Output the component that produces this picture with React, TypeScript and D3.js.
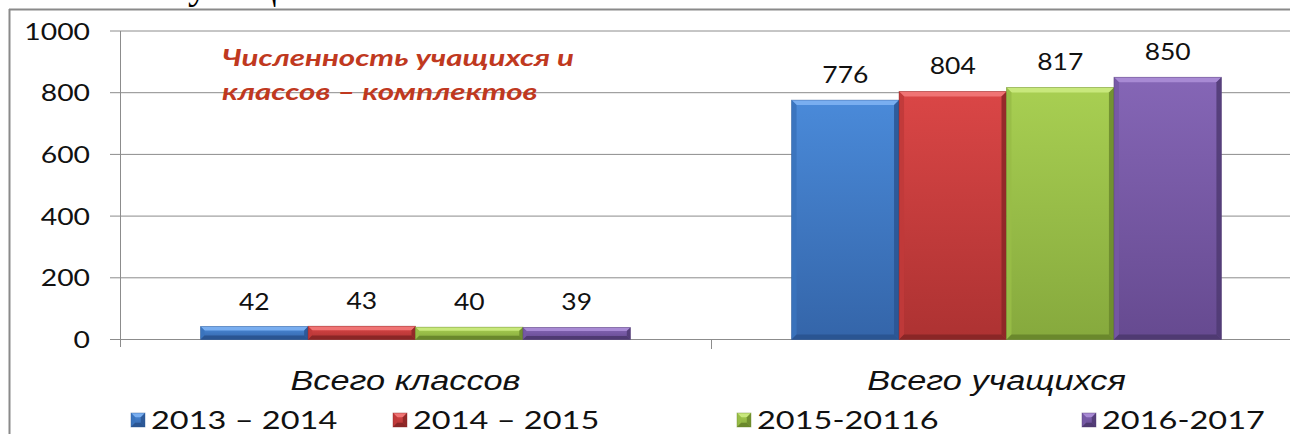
import React from "react";
import * as d3 from "d3";

const categories = ["Всего классов", "Всего учащихся"];
const seriesNames = ["2013 – 2014", "2014 – 2015", "2015-20116", "2016-2017"];
const totalClasses = [42, 43, 40, 39];
const totalStudents = [776, 804, 817, 850];
const yTicks = [0, 200, 400, 600, 800, 1000];
const titleLines = ["Численность учащихся и", "классов – комплектов"];

const W = 1290;
const H = 434;
const SX = 1.18;

const palette = [
  { top: "#4a8ad9", bottom: "#3465a9", light: "#79aef0", dark: "#2a5592", side: "#3a73bd" },
  { top: "#da4646", bottom: "#ad3232", light: "#f07474", dark: "#8a2626", side: "#c03a3a" },
  { top: "#a8cf52", bottom: "#86a93d", light: "#c8e87c", dark: "#6a882c", side: "#98bd47" },
  { top: "#8566b6", bottom: "#664a90", light: "#a88ad4", dark: "#4f3a72", side: "#7659a4" },
];

function SText(props: any) {
  const { x, y, sx = SX, children, ...rest } = props;
  return (
    <text transform={`translate(${x},${y}) scale(${sx},1)`} {...rest}>
      {children}
    </text>
  );
}

function BevelBar({ x, y, w, h, ci, bMax = 5 }: any) {
  const c = palette[ci];
  const b = Math.min(bMax, h * 0.3, w * 0.3);
  const pts = (arr: number[][]) => arr.map((p) => p.join(",")).join(" ");
  return (
    <g>
      <rect x={x} y={y} width={w} height={h} fill={`url(#grad${ci})`} />
      <polygon points={pts([[x, y], [x + w, y], [x + w - b, y + b], [x + b, y + b]])} fill={c.light} />
      <polygon points={pts([[x, y], [x + b, y + b], [x + b, y + h - b], [x, y + h]])} fill={c.side} opacity={0.9} />
      <polygon points={pts([[x + w, y], [x + w, y + h], [x + w - b, y + h - b], [x + w - b, y + b]])} fill={c.dark} opacity={0.85} />
      <polygon points={pts([[x, y + h], [x + b, y + h - b], [x + w - b, y + h - b], [x + w, y + h]])} fill={c.dark} />
      <rect x={x} y={y} width={w} height={h} fill="none" stroke={c.dark} strokeOpacity={0.5} strokeWidth={0.8} />
    </g>
  );
}

export default function App() {
  const y = d3.scaleLinear().domain([0, 1000]).range([339.5, 31]);
  const x0 = d3.scaleBand<string>().domain(categories).range([120, 1302]).paddingInner(0).paddingOuter(0);
  const x1 = d3.scaleBand<string>().domain(seriesNames).range([0, x0.bandwidth()]).paddingInner(0).paddingOuter(0.75);
  const data = [totalClasses, totalStudents];
  const legendX = [131, 393, 737, 1082];

  return (
    <svg width={W} height={H} style={{ position: "absolute", left: 0, top: 0, background: "#fff" }}>
      <defs>
        {palette.map((c, i) => (
          <linearGradient key={i} id={`grad${i}`} x1="0" y1="0" x2="0" y2="1">
            <stop offset="0" stopColor={c.top} />
            <stop offset="1" stopColor={c.bottom} />
          </linearGradient>
        ))}
      </defs>
      <rect x={0} y={0} width={W} height={H} fill="#fff" />

      {/* fragment of text above the chart */}
      <text x={188} y={-2} fontFamily="Liberation Serif" fontSize={40} fill="#000">
        учащихся
      </text>

      {/* outer border */}
      <line x1={9} x2={W} y1={9.5} y2={9.5} stroke="#8a8a8a" strokeWidth={2} />
      <line x1={9.5} x2={9.5} y1={9} y2={H} stroke="#8a8a8a" strokeWidth={2} />

      {/* gridlines */}
      {yTicks.map((t) => (
        <line key={t} x1={110} x2={W} y1={y(t)} y2={y(t)} stroke="#8c8c8c" strokeWidth={1} />
      ))}
      {/* y axis */}
      <line x1={120.5} x2={120.5} y1={y(1000)} y2={347} stroke="#8c8c8c" strokeWidth={1} />
      {/* category separator tick */}
      <line x1={711.5} x2={711.5} y1={y(0)} y2={349} stroke="#8c8c8c" strokeWidth={1} />

      {/* y tick labels */}
      {yTicks.map((t) => (
        <SText key={t} x={90} y={y(t) + 8.5} textAnchor="end" fontFamily="Lato" fontSize={24} fill="#111">
          {t}
        </SText>
      ))}

      {/* bars */}
      {categories.map((cat, gi) => (
        <g key={cat}>
          {seriesNames.map((s, si) => {
            const v = data[gi][si];
            const bx = (x0(cat) as number) + (x1(s) as number);
            const bw = x1.bandwidth();
            const by = y(v);
            const bh = y(0) - y(v);
            return (
              <g key={s}>
                <BevelBar x={bx} y={by} w={bw} h={bh} ci={si} />
                <SText x={bx + bw / 2} y={by - 17} textAnchor="middle" fontFamily="Lato" fontSize={23} fill="#111" sx={1.15}>
                  {v}
                </SText>
              </g>
            );
          })}
          <SText
            x={(x0(cat) as number) + x0.bandwidth() / 2 - 10}
            y={390}
            textAnchor="middle"
            fontFamily="Liberation Sans"
            fontStyle="italic"
            fontSize={27}
            fill="#111"
            sx={1.27}
          >
            {cat}
          </SText>
        </g>
      ))}

      {/* title */}
      {titleLines.map((l, i) => (
        <SText
          key={i}
          x={222}
          y={66 + i * 34}
          fontFamily="Lato"
          fontWeight="bold"
          fontStyle="italic"
          fontSize={23}
          fill="#c0391f"
          sx={1.36}
        >
          {l}
        </SText>
      ))}

      {/* legend */}
      {seriesNames.map((s, i) => (
        <g key={s}>
          <BevelBar x={legendX[i]} y={413} w={14} h={14} ci={i} bMax={5} />
          <SText x={legendX[i] + 20} y={429} fontFamily="Lato" fontSize={25} fill="#111" sx={1.3}>
            {s}
          </SText>
        </g>
      ))}
    </svg>
  );
}
